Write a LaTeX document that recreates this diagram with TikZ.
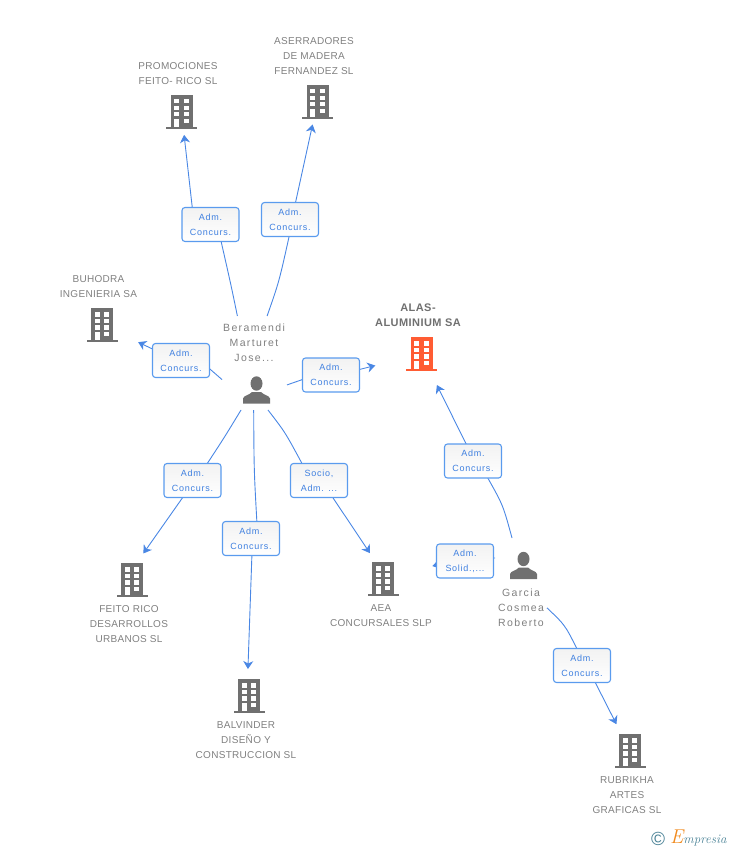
\documentclass[tikz,border=0pt]{standalone}
\usepackage{fontspec}
\usepackage{xcolor}
\usetikzlibrary{arrows.meta,backgrounds}
\setmainfont{Liberation Sans}
\newfontfamily\boxfont[LetterSpace=8]{Liberation Sans}
\newfontfamily\namefont[LetterSpace=3]{Liberation Sans}
\newfontfamily\personfont[LetterSpace=13]{Liberation Sans}
\newfontfamily\mainnamefont[LetterSpace=4]{Liberation Sans}
\definecolor{color_link}{HTML}{4A87E4}
\definecolor{color_box}{HTML}{5A9BEE}
\definecolor{color_boxtext}{HTML}{3F80E0}
\definecolor{color_icon}{HTML}{707070}
\definecolor{color_name}{HTML}{808080}
\definecolor{color_main}{HTML}{FF5C33}
\definecolor{color_logo}{HTML}{4A8296}
\definecolor{color_logo_e}{HTML}{F08A1E}
\tikzset{
	pics/buildingicon/.style={code={
		\fill[pic actions] (-11,-17) rectangle (11,15);
		\fill[pic actions] (-15.5,14.7) rectangle (15.5,17);
		\foreach \wy in {-12.7,-6,0.3}{
			\fill[white] (-7.2,\wy) rectangle (-2.5,\wy+4.2);
			\fill[white] (2.2,\wy) rectangle (7.2,\wy+4.2);
		}
		\fill[white] (-7.2,6.7) rectangle (-2.5,14.7);
		\fill[white] (2.2,6.7) rectangle (7.2,10.7);
	}},
	pics/personicon/.style={code={
		\fill[color_icon] (0,-6.5) ellipse (6 and 7.2);
		\fill[color_icon] (-13.5,13.5) -- (-13.5,8.5) .. controls (-13,5.5) and (-7,5) .. (-4.5,2)
			-- (4.5,2) .. controls (7,5) and (13,5.5) .. (13.5,8.5) -- (13.5,13.5) -- cycle;
	}},
	building/.style={circle,minimum size=46,inner sep=0,outer sep=0},
	person/.style={rectangle,inner sep=0,outer sep=0},
	linkbox/.style={draw=color_box,line width=1.1pt,rounded corners=3pt,minimum width=57,minimum height=34,
		inner sep=0,outer sep=0,top color=black!5,bottom color=white,text=color_boxtext,align=center,
		font=\boxfont\fontsize{9}{15}\selectfont},
	companyname/.style={text=color_name,align=center,inner sep=0,font=\namefont\fontsize{10}{15}\selectfont},
	personname/.style={text=color_name,align=center,inner sep=0,font=\personfont\fontsize{10.5}{15}\selectfont},
	mainname/.style={text=color_icon,align=center,inner sep=0,font=\mainnamefont\bfseries\fontsize{11}{15}\selectfont},
	link/.style={draw=color_link,line width=0.9pt},
	linkend/.style={link,-{Stealth[length=8pt,width=10pt,inset=2.5pt]}}
}
\begin{document}
\begin{tikzpicture}[x=1pt,y=-1pt]
	\useasboundingbox (0,0) rectangle (728,850);
	% Companies
	\node[building] (promociones) at (181.5,112) {};
	\node[building] (aserradores) at (317.5,102) {};
	\node[building] (buhodra) at (102,325) {};
	\node[building] (alas) at (421.5,354) {};
	\node[building] (feitorico) at (132,580) {};
	\node[building] (balvinder) at (249,696) {};
	\node[building] (aea) at (383,579) {};
	\node[building] (rubrikha) at (630,751) {};
	\pic[fill=color_icon] at (promociones) {buildingicon};
	\pic[fill=color_icon] at (aserradores) {buildingicon};
	\pic[fill=color_icon] at (buhodra) {buildingicon};
	\pic[fill=color_main] at (alas) {buildingicon};
	\pic[fill=color_icon] at (feitorico) {buildingicon};
	\pic[fill=color_icon] at (balvinder) {buildingicon};
	\pic[fill=color_icon] at (aea) {buildingicon};
	\pic[fill=color_icon] at (rubrikha) {buildingicon};

	% Persons, the node holds icon and name
	\node[person,minimum width=65,minimum height=94] (beramendi) at (254.5,363) {};
	\node[person,minimum width=52,minimum height=102] (garcia) at (521,589) {};
	\pic at (256.5,390) {personicon};
	\pic at (523.5,565.5) {personicon};

	% Names
	\node[companyname] (promociones_name) at (178,74) {PROMOCIONES\\FEITO- RICO SL};
	\node[companyname] (aserradores_name) at (314,56.5) {ASERRADORES\\DE MADERA\\FERNANDEZ SL};
	\node[companyname] (buhodra_name) at (98.5,287) {BUHODRA\\INGENIERIA SA};
	\node[mainname] (alas_name) at (418,315.5) {ALAS-\\ALUMINIUM SA};
	\node[personname] (beramendi_name) at (254,342.5) {Beramendi\\Marturet\\Jose...};
	\node[companyname] (feitorico_name) at (129,624.5) {FEITO RICO\\DESARROLLOS\\URBANOS SL};
	\node[companyname] (balvinder_name) at (246,740.5) {BALVINDER\\DISEÑO Y\\CONSTRUCCION SL};
	\node[companyname] (aea_name) at (381,616) {AEA\\CONCURSALES SLP};
	\node[personname] (garcia_name) at (521,608) {Garcia\\Cosmea\\Roberto};
	\node[companyname] (rubrikha_name) at (627,795.5) {RUBRIKHA\\ARTES\\GRAFICAS SL};

	% Link boxes
	\node[linkbox] (box_promociones) at (210.5,224.5) {Adm.\\Concurs.};
	\node[linkbox] (box_aserradores) at (290,219.5) {Adm.\\Concurs.};
	\node[linkbox] (box_buhodra) at (181,360.5) {Adm.\\Concurs.};
	\node[linkbox] (box_alas) at (331,375) {Adm.\\Concurs.};
	\node[linkbox] (box_feitorico) at (192.5,480.5) {Adm.\\Concurs.};
	\node[linkbox] (box_balvinder) at (251,538.5) {Adm.\\Concurs.};
	\node[linkbox] (box_aea) at (319,480.5) {Socio,\\Adm. ...};
	\node[linkbox] (box_garcia) at (473,461) {Adm.\\Concurs.};
	\node[linkbox] (box_solid) at (465,561) {Adm.\\Solid.,...};
	\node[linkbox] (box_rubrikha) at (582,665.5) {Adm.\\Concurs.};

	% Links, under the boxes
	\begin{scope}[on background layer]
		\draw[link] (beramendi.110) .. controls (231,285) .. (box_promociones.-58);
		\draw[linkend] (box_promociones.137) -- (promociones);
		\draw[link] (beramendi.75) .. controls (279,282) .. (box_aserradores.-93);
		\draw[linkend] (box_aserradores.72) -- (aserradores);
		\draw[link] (beramendi.207.6) -- (box_buhodra.-16.3);
		\draw[linkend,shorten >=17] (box_buhodra.158) -- (buhodra);
		\draw[link] (beramendi.-34) -- (box_alas.189.8);
		\draw[linkend,shorten >=24.6] (box_alas.11.7) -- (alas);
		\draw[link] (beramendi.254) .. controls (224,438) .. (box_feitorico.49.5);
		\draw[linkend,shorten >=6] (box_feitorico.240.8) -- (feitorico.70);
		\draw[link] (beramendi.269) .. controls (254,470) .. (box_balvinder.71);
		\draw[linkend,shorten >=4] (box_balvinder.-87) -- (balvinder.93);
		\draw[link] (beramendi.-74) .. controls (285,432) .. (box_aea.135.8);
		\draw[linkend,shorten >=6] (box_aea.-51) -- (aea.115);
		\draw[link] (garcia.100) .. controls (503,505) .. (box_garcia.-49.4);
		\draw[linkend,shorten >=11.6] (box_garcia.112) -- (alas);
		\draw[link] (garcia.130) -- (box_solid.6);
		\draw[linkend,shorten >=28] (box_solid.188) -- (aea);
		\draw[link] (garcia.-36) .. controls (565,625) .. (box_rubrikha.107);
		\draw[linkend,shorten >=7] (box_rubrikha.-52.6) -- (rubrikha);
	\end{scope}

	% Logo
	\node[text=color_logo,inner sep=0,font=\fontsize{19}{19}\selectfont] (logo_c) at (658,839) {\textcopyright};
	\node[anchor=base west,inner sep=0,text=color_logo,font=\itshape\fontfamily{lmr}\fontsize{13}{13}\selectfont] (logo) at (670,843)
		{{\color{color_logo_e}\fontsize{20}{20}\selectfont E}mpresia};
\end{tikzpicture}
\end{document}
